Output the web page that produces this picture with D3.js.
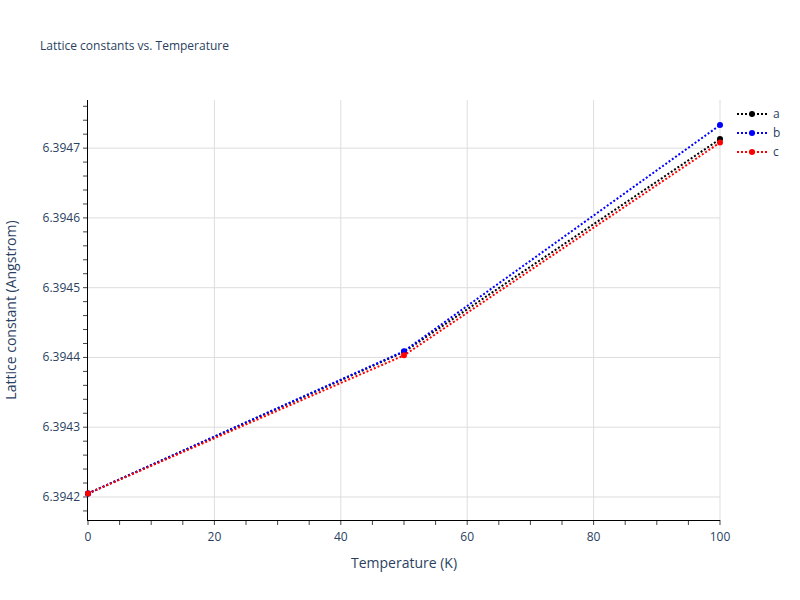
<!DOCTYPE html>
<html><head><meta charset="utf-8">
<script src="https://cdn.jsdelivr.net/npm/d3@7"></script>
<style>body{margin:0;background:#fff;font-family:"Open Sans",Arial,sans-serif}</style>
</head><body>
<script>
var temps = [0, 50, 100];
var seriesA = [6.394205, 6.394408, 6.394713];
var seriesB = [6.394205, 6.394409, 6.394733];
var seriesC = [6.394205, 6.394403, 6.394708];
var series = [
	{name: "a", values: seriesA, color: "black"},
	{name: "b", values: seriesB, color: "blue"},
	{name: "c", values: seriesC, color: "red"}
];
var yTicks = [6.3942, 6.3943, 6.3944, 6.3945, 6.3946, 6.3947];
var xTicks = [0, 20, 40, 60, 80, 100];

var svg = d3.select("body").append("svg").attr("width", 800).attr("height", 600);
var x = d3.scaleLinear().domain([0, 100]).range([88, 720]);
var y = d3.scaleLinear().domain([6.394167, 6.394769]).range([520, 100]);

// grid
svg.selectAll(".gx").data(xTicks.slice(1)).enter().append("line")
	.attr("x1", x).attr("x2", x).attr("y1", 100).attr("y2", 520)
	.attr("stroke", "#ddd");
svg.selectAll(".gy").data(yTicks).enter().append("line")
	.attr("x1", 88).attr("x2", 720).attr("y1", y).attr("y2", y)
	.attr("stroke", "#ddd");

// minor ticks
var xMinor = d3.range(0, 101, 5);
svg.selectAll(".mx").data(xMinor).enter().append("line")
	.attr("x1", x).attr("x2", x).attr("y1", 520).attr("y2", 525)
	.attr("stroke", "#444");
var yMinor = d3.range(0, 30).map(function(i){ return 6.39418 + i * 0.00002; })
	.filter(function(v){ return v >= 6.394167 && v <= 6.394769; });
svg.selectAll(".my").data(yMinor).enter().append("line")
	.attr("x1", 83).attr("x2", 88).attr("y1", y).attr("y2", y)
	.attr("stroke", "#444");

// axes
svg.append("line").attr("x1", 87).attr("x2", 720).attr("y1", 520.5).attr("y2", 520.5).attr("stroke", "black");
svg.append("line").attr("x1", 87.5).attr("x2", 87.5).attr("y1", 100).attr("y2", 521).attr("stroke", "black");

svg.selectAll(".tx").data(xTicks).enter().append("text")
	.attr("x", x).attr("y", 541).attr("text-anchor", "middle")
	.attr("font-size", 12).attr("fill", "#2a3f5f").text(function(d){ return d; });
svg.selectAll(".ty").data(yTicks).enter().append("text")
	.attr("x", 80).attr("y", function(d){ return y(d) + 4; }).attr("text-anchor", "end")
	.attr("font-size", 12).attr("fill", "#2a3f5f").text(function(d){ return d.toFixed(4); });

svg.append("text").attr("x", 404).attr("y", 568).attr("text-anchor", "middle")
	.attr("font-size", 14).attr("fill", "#2a3f5f").text("Temperature (K)");
svg.append("text").attr("transform", "translate(16,310) rotate(-90)").attr("text-anchor", "middle")
	.attr("font-size", 14).attr("fill", "#2a3f5f").text("Lattice constant (Angstrom)");
svg.append("text").attr("x", 40).attr("y", 50).attr("font-size", 12).attr("fill", "#2a3f5f")
	.text("Lattice constants vs. Temperature");

var line = d3.line().x(function(d, i){ return x(temps[i]); }).y(function(d){ return y(d); });
var plot = svg.append("g");
series.forEach(function(s){
	plot.append("path").attr("d", line(s.values)).attr("fill", "none")
		.attr("stroke", s.color).attr("stroke-width", 2).attr("stroke-dasharray", "2,2");
	plot.selectAll(null).data(s.values).enter().append("circle")
		.attr("cx", function(d, i){ return x(temps[i]); }).attr("cy", y)
		.attr("r", 3).attr("fill", s.color);
});

// legend
var leg = svg.selectAll(".leg").data(series).enter().append("g")
	.attr("transform", function(d, i){ return "translate(737," + (114 + i * 19) + ")"; });
leg.append("line").attr("x1", 0).attr("x2", 30).attr("stroke", function(d){ return d.color; })
	.attr("stroke-width", 2).attr("stroke-dasharray", "2,2");
leg.append("circle").attr("cx", 15).attr("r", 3).attr("fill", function(d){ return d.color; });
leg.append("text").attr("x", 36).attr("y", 4).attr("font-size", 12).attr("fill", "#2a3f5f")
	.text(function(d){ return d.name; });
</script>
</body></html>
